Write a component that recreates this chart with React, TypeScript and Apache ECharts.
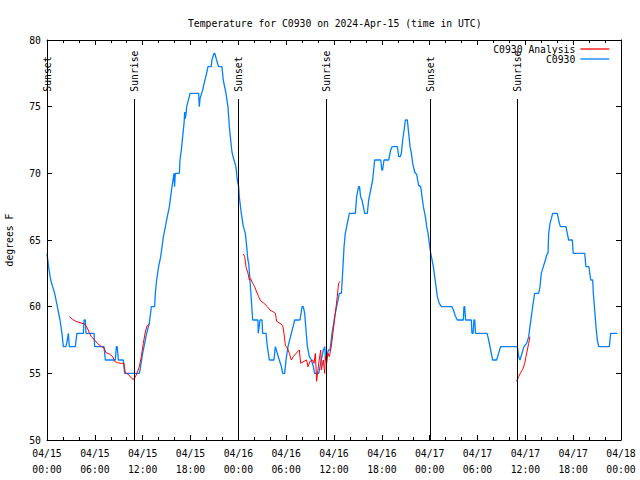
import React, { useEffect, useRef } from 'react';
import * as echarts from 'echarts';

const TITLE = 'Temperature for C0930 on 2024-Apr-15 (time in UTC)';
const Y_NAME = 'degrees F';
const SERIES_ANALYSIS = 'C0930 Analysis';
const SERIES_OBS = 'C0930';

// x axis: hours after 2024-04-15 00:00 UTC
const X_MIN = 0;
const X_MAX = 72;
const X_STEP = 6;
const Y_MIN = 50;
const Y_MAX = 80;
const Y_STEP = 5;
const SUN_LINE_TOP = 75.6;

const SUN_HOURS = [0.03, 10.95, 24.0, 35.03, 48.08, 59.0];
const SUN_LABELS = ['Sunset', 'Sunrise', 'Sunset', 'Sunrise', 'Sunset', 'Sunrise'];

// C0930 observations [hour, degF]
const OBS: [number, number][] = [
  [0.0, 64], [0.2, 63], [0.46, 62], [0.96, 61], [1.3, 60], [1.63, 59], [1.88, 58], [2.05, 57],
  [2.38, 57], [2.55, 57.5], [2.68, 58], [2.8, 57], [3.55, 57], [3.75, 58], [4.56, 58], [4.65, 59],
  [4.81, 59], [4.89, 58], [5.9, 58], [5.98, 57], [7.15, 57], [7.32, 56], [8.57, 56], [8.7, 57],
  [8.8, 57], [8.95, 56], [9.57, 56], [9.74, 55], [11.58, 55],
  [11.67, 55.25], [12.0, 56.5], [12.5, 58], [12.83, 58.75], [13.09, 60], [13.5, 60], [13.59, 61],
  [13.75, 62], [14.0, 63], [14.26, 63.75], [14.43, 64.5], [14.6, 65.25], [14.85, 66], [15.09, 66.75],
  [15.35, 67.5], [15.51, 68.25], [15.68, 69], [15.93, 70], [16.0, 69], [16.1, 70], [16.6, 70],
  [16.68, 71], [16.85, 71.75], [17.02, 72.75], [17.19, 73.75], [17.27, 74.6], [17.35, 74.1],
  [17.45, 74.5], [17.52, 75], [17.85, 75.75], [17.94, 76], [19.03, 76], [19.1, 75], [19.2, 75.6],
  [19.52, 76.25], [19.77, 76.9], [20.02, 77.5], [20.19, 78], [20.6, 78], [20.69, 78.5], [20.94, 79],
  [21.05, 79], [21.27, 78.5], [21.52, 78], [21.94, 78], [22.11, 77], [22.45, 76], [22.7, 75],
  [22.87, 73.5], [23.04, 72.5], [23.2, 71.6], [23.45, 71], [23.7, 70.5], [23.87, 69.5], [24.04, 69],
  [24.12, 68.25], [24.37, 67], [24.63, 66], [24.88, 65.5], [25.05, 64.5], [25.2, 63.5], [25.3, 63.25],
  [25.46, 62], [25.63, 60.5], [25.8, 59], [26.46, 59], [26.5, 58], [26.72, 59], [26.97, 59],
  [27.05, 58], [27.47, 58], [27.64, 57], [27.89, 56], [28.47, 56], [28.64, 57], [28.89, 56.5],
  [29.14, 56], [29.4, 55.5], [29.56, 55], [29.81, 55], [29.98, 56], [30.23, 57], [30.65, 58],
  [31.07, 59], [31.74, 59], [31.99, 60], [32.15, 60], [32.32, 59.5], [32.49, 58.25], [32.66, 57],
  [32.91, 56.25], [33.16, 56], [33.41, 55.5], [33.57, 55], [34.08, 55], [34.24, 55.5], [34.41, 56],
  [34.66, 56.75], [34.83, 57], [34.95, 56], [35.1, 56.25], [35.3, 56.75],
  [35.5, 56.75], [35.75, 58], [36.09, 59.25], [36.33, 60], [36.67, 61], [36.93, 61], [37.08, 62.5],
  [37.26, 64.5], [37.42, 65.5], [37.59, 66], [37.76, 66.5], [37.92, 67], [38.68, 67], [38.84, 68.25],
  [39.09, 69], [39.2, 69], [39.34, 68.25], [39.51, 68], [39.68, 67.5], [39.85, 67], [40.18, 67],
  [40.35, 68], [40.6, 68.75], [40.85, 69.5], [41.1, 71], [41.86, 71], [42.0, 70.25], [42.1, 70.25],
  [42.27, 71], [42.86, 71], [43.11, 71.75], [43.28, 72], [43.95, 72], [44.12, 71.25], [44.3, 71.25],
  [44.45, 71.5], [44.62, 72.5], [44.79, 73.25], [44.96, 74], [45.2, 74], [45.37, 73], [45.54, 72],
  [45.71, 71.5], [45.87, 70.75], [46.12, 70.1], [46.37, 69.9], [46.62, 69.1], [46.88, 69],
  [47.04, 68.25], [47.21, 67.5], [47.46, 66.75], [47.63, 66], [47.8, 65.5], [47.96, 64.75],
  [48.13, 64], [48.3, 63.5], [48.46, 63], [48.63, 62.25], [48.8, 61.5], [48.96, 60.75], [49.21, 60.25],
  [49.47, 60], [50.8, 60], [50.97, 59.75], [51.22, 59.3], [51.47, 59], [52.22, 59], [52.3, 60],
  [52.4, 60], [52.5, 59], [53.23, 59], [53.3, 58], [53.45, 58], [53.55, 59], [53.65, 59], [53.75, 58],
  [55.2, 58], [55.4, 57.5], [55.65, 56.75], [55.9, 56], [56.4, 56], [56.65, 56.5], [56.9, 57],
  [58.83, 57], [59.0, 57], [59.17, 56.25], [59.33, 56], [59.58, 56.5], [59.83, 57], [60.17, 57.25],
  [60.42, 57.75], [60.58, 58.5], [60.75, 59.25], [60.92, 60], [61.17, 61], [61.67, 61], [61.84, 61.5],
  [62.0, 62.5], [62.26, 63], [62.51, 63.5], [62.76, 64], [62.85, 64], [62.93, 65.5], [63.1, 66.25],
  [63.26, 66.6], [63.43, 67], [64.0, 67], [64.27, 66.25], [64.4, 66], [65.1, 66], [65.26, 65.5],
  [65.43, 65], [65.9, 65], [66.0, 64], [67.45, 64], [67.6, 63], [67.97, 63], [68.2, 62], [68.45, 62],
  [68.53, 61], [68.7, 59.75], [68.86, 58.5], [69.03, 57.5], [69.2, 57], [70.54, 57], [70.7, 58],
  [71.54, 58],
];

// C0930 Analysis, three separate runs [hour, degF]
const ANALYSIS_1: [number, number][] = [
  [2.8, 59.25], [3.22, 59.05], [3.64, 58.9], [4.14, 58.8], [4.72, 58.7], [5.06, 58.4], [5.31, 58.05],
  [5.56, 57.75], [5.9, 57.55], [6.31, 57.25], [6.73, 57.05], [7.15, 56.9], [7.4, 56.55], [7.82, 56.45],
  [8.24, 56.25], [8.49, 55.9], [8.82, 55.8], [9.32, 55.75], [9.66, 55.75], [9.82, 55.05], [10.24, 54.9],
  [10.66, 54.6], [10.91, 54.55], [11.25, 54.95], [11.58, 55.5], [11.83, 56.25], [12.08, 57.25],
  [12.33, 58.1], [12.58, 58.6], [12.84, 58.7],
];
const ANALYSIS_2: [number, number][] = [
  [24.63, 63.95], [24.8, 63.75], [24.96, 63.0], [25.21, 62.5], [25.38, 62.0], [25.55, 62.1],
  [25.8, 61.75], [26.05, 61.5], [26.3, 61.1], [26.55, 60.75], [26.8, 60.45], [27.22, 60.25], [27.64, 60.0],
  [27.97, 59.75], [28.39, 59.6], [28.64, 59.5], [28.81, 58.9], [29.23, 58.75], [29.56, 58.6],
  [29.73, 58.0], [29.9, 57.1], [30.15, 56.9], [30.4, 56.5], [30.65, 56.0], [30.9, 56.25], [31.23, 56.5],
  [31.65, 56.75], [31.82, 55.75], [32.24, 55.9], [32.57, 56.0], [32.74, 55.5], [32.99, 55.9],
  [33.32, 56.0], [33.49, 55.75], [33.66, 56.5], [33.82, 54.4], [34.08, 55.75], [34.33, 56.75],
  [34.41, 55.25], [34.66, 56.0], [34.83, 55.0], [34.91, 56.25], [35.08, 55.75], [35.24, 56.5],
  [35.41, 56.25], [35.66, 57.0], [35.91, 58.25], [36.16, 59.5], [36.41, 60.75], [36.58, 61.75],
  [36.75, 61.9],
];
const ANALYSIS_3: [number, number][] = [
  [58.9, 54.4], [59.16, 54.75], [59.41, 55.05], [59.67, 55.3], [59.92, 55.75], [60.08, 56.25],
  [60.25, 56.75], [60.42, 57.25], [60.58, 57.75],
];

const FONT = '"DejaVu Sans Mono", "Liberation Mono", monospace';
const FS = 9.75;
const RED = '#ff0000';
const BLUE = '#0080ff';

function xLabel(h: number): string {
  const day = 15 + Math.floor(h / 24);
  const hh = Math.round(h % 24);
  return `04/${String(day).padStart(2, '0')}\n${String(hh).padStart(2, '0')}:00`;
}

export default function App() {
  const ref = useRef<HTMLDivElement>(null);
  useEffect(() => {
    if (!ref.current) return;
    const chart = echarts.init(ref.current, undefined, { renderer: 'svg' });
    const axisCommon = {
      axisLine: { show: true, onZero: false, lineStyle: { color: '#000', width: 1 } },
      splitLine: { show: false },
    };
    const xCommon = {
      ...axisCommon,
      type: 'value' as const,
      min: X_MIN,
      max: X_MAX,
      interval: X_STEP,
      axisTick: { show: true, inside: true, length: 5, lineStyle: { color: '#000' } },
      minorTick: { show: true, splitNumber: 3, length: 3, lineStyle: { color: '#000' } },
    };
    const yCommon = {
      ...axisCommon,
      type: 'value' as const,
      min: Y_MIN,
      max: Y_MAX,
      interval: Y_STEP,
      axisTick: { show: true, inside: true, length: 5, lineStyle: { color: '#000' } },
    };
    const analysisSeries = [ANALYSIS_1, ANALYSIS_2, ANALYSIS_3].map((d) => ({
      name: SERIES_ANALYSIS,
      type: 'line' as const,
      data: d,
      showSymbol: false,
      symbol: 'none',
      z: 4,
      lineStyle: { color: RED, width: 1 },
      itemStyle: { color: RED },
    }));
    chart.setOption({
      animation: false,
      title: {
        text: TITLE,
        left: 183,
        top: 13,
        textStyle: { fontFamily: FONT, fontSize: FS, fontWeight: 'normal', color: '#000' },
      },
      legend: {
        orient: 'vertical',
        right: 30,
        top: 44,
        padding: 0,
        align: 'right',
        itemWidth: 29,
        itemHeight: 12,
        itemGap: 0,
        data: [SERIES_ANALYSIS, SERIES_OBS],
        itemStyle: { opacity: 0 },
        lineStyle: { width: 1.3 },
        textStyle: { fontFamily: FONT, fontSize: FS, color: '#000' },
      },
      grid: { left: 47, right: 19, top: 40, bottom: 40, containLabel: false, outerBoundsMode: 'none' },
      xAxis: [
        {
          ...xCommon,
          position: 'bottom',
          axisLabel: {
            margin: 5,
            fontFamily: FONT,
            fontSize: FS,
            color: '#000',
            lineHeight: 16,
            formatter: (v: number) => xLabel(v),
          },
        },
        { ...xCommon, position: 'top', axisLabel: { show: false } },
      ],
      yAxis: [
        {
          ...yCommon,
          position: 'left',
          name: Y_NAME,
          nameLocation: 'middle',
          nameGap: 33,
          nameTextStyle: { fontFamily: FONT, fontSize: FS, color: '#000' },
          axisLabel: { margin: 6, fontFamily: FONT, fontSize: FS, color: '#000' },
        },
        { ...yCommon, position: 'right', axisLabel: { show: false } },
      ],
      series: [
        {
          name: SERIES_OBS,
          type: 'line',
          data: OBS,
          showSymbol: false,
          symbol: 'none',
          z: 3,
          lineStyle: { color: BLUE, width: 1.3 },
          itemStyle: { color: BLUE },
        },
        ...analysisSeries,
        {
          name: 'sun',
          type: 'custom',
          z: 5,
          data: SUN_HOURS.map((h) => [h, Y_MIN]),
          renderItem: (params: any, api: any) => {
            const h = api.value(0);
            const top = api.coord([h, SUN_LINE_TOP]);
            const bottom = api.coord([h, Y_MIN]);
            const x = Math.round(top[0]) + 0.5;
            return {
              type: 'group',
              children: [
                {
                  type: 'line',
                  shape: { x1: x, y1: Math.round(top[1]), x2: x, y2: bottom[1] },
                  style: { stroke: '#000', lineWidth: 1 },
                },
                {
                  type: 'text',
                  x: x,
                  y: top[1] - 7,
                  rotation: Math.PI / 2,
                  style: {
                    text: SUN_LABELS[params.dataIndex],
                    fill: '#000',
                    font: `${FS}px ${FONT}`,
                    align: 'left',
                    verticalAlign: 'middle',
                  },
                },
              ],
            };
          },
        },
      ],
    });
    return () => chart.dispose();
  }, []);
  return (
    <div
      ref={ref}
      style={{ position: 'fixed', left: 0, top: 0, width: 640, height: 480, background: '#fff' }}
    />
  );
}
